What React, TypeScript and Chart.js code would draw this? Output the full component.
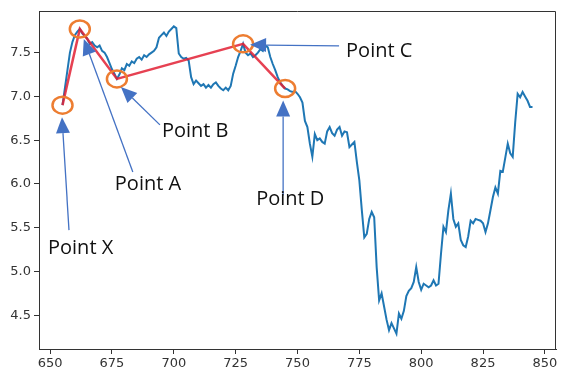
import React, { useEffect, useRef } from "react";
import { Chart, registerables } from "chart.js";

Chart.register(...registerables);

// Daily closing values, one per day starting at day 655
const START_DAY = 655;
const closeValues = [
  6.90, 7.10, 7.30, 7.50, 7.62, 7.70, 7.74, 7.77, 7.72, 7.69,
  7.66, 7.60, 7.62, 7.58, 7.56, 7.58, 7.52, 7.50, 7.45, 7.38,
  7.31, 7.26, 7.20, 7.25, 7.32, 7.30, 7.37, 7.35, 7.40, 7.38,
  7.43, 7.45, 7.42, 7.47, 7.45, 7.48, 7.50, 7.52, 7.56, 7.67,
  7.70, 7.73, 7.69, 7.74, 7.77, 7.80, 7.78, 7.49, 7.45, 7.43,
  7.44, 7.41, 7.22, 7.14, 7.18, 7.15, 7.12, 7.14, 7.10, 7.13,
  7.10, 7.14, 7.16, 7.12, 7.09, 7.07, 7.10, 7.07, 7.12, 7.26,
  7.35, 7.45, 7.52, 7.60, 7.50, 7.47, 7.49, 7.45, 7.47, 7.50,
  7.54, 7.52, 7.58, 7.56, 7.45, 7.37, 7.30, 7.22, 7.16, 7.12,
  7.09, 7.08, 7.06, 7.05, 7.06, 7.03, 6.99, 6.93, 6.72, 6.65,
  6.46, 6.31, 6.57, 6.50, 6.52, 6.48, 6.46, 6.60, 6.65, 6.58,
  6.55, 6.62, 6.65, 6.55, 6.60, 6.59, 6.42, 6.45, 6.48, 6.25,
  6.04, 5.70, 5.39, 5.43, 5.60, 5.68, 5.62, 5.05, 4.67, 4.75,
  4.60, 4.45, 4.33, 4.41, 4.35, 4.29, 4.52, 4.46, 4.55, 4.72,
  4.78, 4.81, 4.88, 5.05, 4.88, 4.79, 4.86, 4.84, 4.82, 4.84,
  4.90, 4.84, 4.86, 5.20, 5.51, 5.45, 5.70, 5.89, 5.60, 5.51,
  5.55, 5.36, 5.30, 5.28, 5.40, 5.58, 5.55, 5.60, 5.59, 5.58,
  5.55, 5.45, 5.55, 5.70, 5.85, 5.96, 5.89, 6.15, 6.14, 6.30,
  6.46, 6.35, 6.31, 6.70, 7.03, 6.99, 7.05, 7.00, 6.95, 6.88,
  6.88,
];

// XABCD pattern pivots
const patternLabels = ["Point X", "Point A", "Point B", "Point C", "Point D"];
const patternDays = [655, 662, 677, 728, 745];
const patternValues = [6.90, 7.77, 7.20, 7.60, 7.09];

// Axis ticks
const xTickValues = [650, 675, 700, 725, 750, 775, 800, 825, 850];
const yTickValues = [4.5, 5.0, 5.5, 6.0, 6.5, 7.0, 7.5];

// Callout placement, in pixels relative to each pivot
const callouts = [
  { text: [-14.5, 149], tail: [6.5, 125], tip: [-0.5, 12] },
  { text: [35, 161], tail: [53, 143], tip: [4, 10] },
  { text: [45, 58], tail: [43, 46], tip: [4, 8] },
  { text: [103, 13], tail: [96, 2], tip: [7, 1] },
  { text: [-29, 116], tail: [-2, 107], tip: [-2, 12] },
];

const AXIS_COLOR = "#333333";
const TICK_FONT = { family: "DejaVu Sans", size: 13 };

const calloutPlugin = {
  id: "xabcdCallouts",
  afterDatasetsDraw(chart: any) {
    const ctx = chart.ctx;
    const meta = chart.getDatasetMeta(0);
    ctx.save();
    // orange rings around each pivot
    meta.data.forEach((pt: any) => {
      ctx.beginPath();
      ctx.ellipse(pt.x, pt.y, 10, 8.5, 0, 0, Math.PI * 2);
      ctx.strokeStyle = "#ED7D31";
      ctx.lineWidth = 2.5;
      ctx.stroke();
    });
    // arrows and labels
    meta.data.forEach((pt: any, i: number) => {
      const c = callouts[i];
      const tx = pt.x + c.tip[0];
      const ty = pt.y + c.tip[1];
      const sx = pt.x + c.tail[0];
      const sy = pt.y + c.tail[1];
      const ang = Math.atan2(ty - sy, tx - sx);
      const headLen = 16;
      const headHalf = 7;
      const bx = tx - headLen * Math.cos(ang);
      const by = ty - headLen * Math.sin(ang);
      ctx.strokeStyle = "#4472C4";
      ctx.fillStyle = "#4472C4";
      ctx.lineWidth = 1.3;
      ctx.beginPath();
      ctx.moveTo(sx, sy);
      ctx.lineTo(bx, by);
      ctx.stroke();
      ctx.beginPath();
      ctx.moveTo(tx, ty);
      ctx.lineTo(bx + headHalf * Math.sin(ang), by - headHalf * Math.cos(ang));
      ctx.lineTo(bx - headHalf * Math.sin(ang), by + headHalf * Math.cos(ang));
      ctx.closePath();
      ctx.fill();

      ctx.fillStyle = "#111111";
      ctx.font = "20px 'Open Sans'";
      ctx.textAlign = "left";
      ctx.textBaseline = "alphabetic";
      ctx.fillText(patternLabels[i], pt.x + c.text[0], pt.y + c.text[1]);
    });
    ctx.restore();
  },
  afterDraw(chart: any) {
    const { left, top, right, bottom } = chart.chartArea;
    const ctx = chart.ctx;
    ctx.save();
    ctx.strokeStyle = AXIS_COLOR;
    ctx.lineWidth = 1;
    ctx.beginPath();
    ctx.moveTo(left, top + 0.5);
    ctx.lineTo(right - 0.5, top + 0.5);
    ctx.lineTo(right - 0.5, bottom);
    ctx.stroke();
    ctx.restore();
  },
};

export default function App() {
  const canvasRef = useRef<HTMLCanvasElement | null>(null);

  useEffect(() => {
    const canvas = canvasRef.current;
    if (!canvas) return;

    const days = closeValues.map((_, i) => START_DAY + i);
    const xMinData = days[0];
    const xMaxData = days[days.length - 1];
    const yMinData = Math.min(...closeValues);
    const yMaxData = Math.max(...closeValues);
    const xPad = (xMaxData - xMinData) * 0.05;
    const yPad = (yMaxData - yMinData) * 0.05;

    const chart = new Chart(canvas, {
      type: "line",
      data: {
        datasets: [
          {
            label: "XABCD",
            data: patternDays.map((d, i) => ({ x: d, y: patternValues[i] })),
            borderColor: "rgba(226, 32, 52, 0.85)",
            borderWidth: 2.5,
            pointRadius: 0,
            tension: 0,
          },
          {
            label: "Close",
            data: closeValues.map((v, i) => ({ x: days[i], y: v })),
            borderColor: "#1f77b4",
            borderWidth: 2,
            pointRadius: 0,
            tension: 0,
          },
        ],
      },
      options: {
        animation: false,
        responsive: false,
        maintainAspectRatio: false,
        events: [],
        layout: { padding: { top: 11, right: 6, left: 0, bottom: 0 } },
        plugins: { legend: { display: false }, tooltip: { enabled: false } },
        scales: {
          x: {
            type: "linear",
            min: xMinData - xPad,
            max: xMaxData + xPad,
            afterBuildTicks: (s: any) => {
              s.ticks = xTickValues.map((v) => ({ value: v }));
            },
            afterFit: (s: any) => {
              s.height = 27;
            },
            ticks: {
              font: TICK_FONT,
              color: AXIS_COLOR,
              padding: 2,
              maxRotation: 0,
              autoSkip: false,
              callback: (v: any) => String(v),
            },
            grid: { drawOnChartArea: false, tickLength: 5, color: AXIS_COLOR },
            border: { display: true, color: AXIS_COLOR, width: 1 },
          },
          y: {
            type: "linear",
            min: yMinData - yPad,
            max: yMaxData + yPad,
            afterBuildTicks: (s: any) => {
              s.ticks = yTickValues.map((v) => ({ value: v }));
            },
            afterFit: (s: any) => {
              s.width = 39;
            },
            ticks: {
              font: TICK_FONT,
              color: AXIS_COLOR,
              padding: 3,
              autoSkip: false,
              callback: (v: any) => Number(v).toFixed(1),
            },
            grid: { drawOnChartArea: false, tickLength: 5, color: AXIS_COLOR },
            border: { display: true, color: AXIS_COLOR, width: 1 },
          },
        },
      },
      plugins: [calloutPlugin],
    });

    return () => chart.destroy();
  }, []);

  return (
    <div
      style={{
        position: "fixed",
        left: 0,
        top: 0,
        width: 562,
        height: 376,
        background: "#ffffff",
      }}
    >
      <canvas ref={canvasRef} width={562} height={376} />
    </div>
  );
}
